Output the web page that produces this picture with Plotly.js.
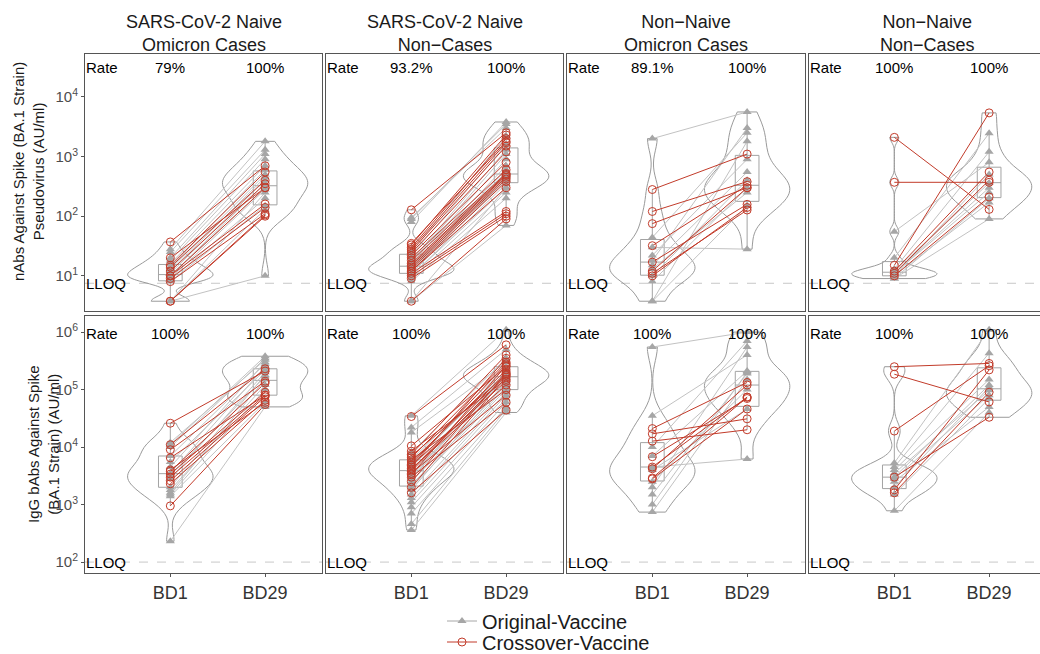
<!DOCTYPE html>
<html><head><meta charset="utf-8">
<script src="https://cdn.plot.ly/plotly-3.0.1.min.js"></script>
<style>
html,body{margin:0;padding:0;background:#fff;overflow:hidden;width:1040px;height:654px;}
#chart{width:1040px;height:654px;}
</style></head><body>
<div id="chart"></div>
<script>
// ---------------- DATA ----------------
const columnTitles = ["SARS-CoV-2 Naive<br>Omicron Cases", "SARS-CoV-2 Naive<br>Non\u2212Cases", "Non\u2212Naive<br>Omicron Cases", "Non\u2212Naive<br>Non\u2212Cases"];
const rowTitles = ["nAbs Against Spike (BA.1 Strain)<br>Pseudovirus (AU/ml)", "IgG bAbs Against Spike<br>(BA.1 Strain) (AU/ml)"];
const timepoints = ["BD1", "BD29"];
const seriesNames = ["Original-Vaccine", "Crossover-Vaccine"];
const nabRates = [["79%", "100%"], ["93.2%", "100%"], ["89.1%", "100%"], ["100%", "100%"]];
const babRates = [["100%", "100%"], ["100%", "100%"], ["100%", "100%"], ["100%", "100%"]];
const nabLLOQ = 7.5;
const babLLOQ = 100;
const nabTickExps = [1, 2, 3, 4];
const babTickExps = [2, 3, 4, 5, 6];

// nAbs, SARS-CoV-2 Naive Omicron Cases
const nab1_orig_bd1  = [3.75, 3.75, 3.75, 8, 8.5, 9, 10, 10, 11, 12, 13, 14, 16, 18, 20, 25, 28];
const nab1_orig_bd29 = [10, 130, 250, 150, 200, 280, 300, 350, 400, 450, 500, 600, 700, 900, 1100, 1300, 1800];
const nab1_cross_bd1  = [3.75, 3.75, 8, 9, 10, 10, 12, 14, 15, 20, 37];
const nab1_cross_bd29 = [100, 105, 110, 140, 160, 300, 350, 400, 550, 300, 700];
// nAbs, SARS-CoV-2 Naive Non-Cases
const nab2_orig_bd1  = [3.75, 3.75, 8, 9, 10, 10, 11, 11, 12, 12, 13, 13, 14, 14, 15, 16, 17, 18, 20, 22, 25, 80, 90, 95];
const nab2_orig_bd29 = [70, 300, 200, 250, 300, 350, 400, 420, 450, 480, 500, 520, 550, 600, 700, 900, 1100, 1300, 500, 1600, 2200, 3800, 3500, 3000];
const nab2_cross_bd1  = [3.75, 9, 10, 11, 12, 12, 13, 14, 15, 16, 18, 20, 22, 24, 26, 28, 30, 33, 35, 128];
const nab2_cross_bd29 = [90, 100, 110, 120, 300, 380, 420, 450, 480, 500, 520, 600, 800, 1200, 1500, 1700, 2000, 2300, 1800, 2500];
// nAbs, Non-Naive Omicron Cases
const nab3_orig_bd1  = [2000, 44, 30, 22, 18, 15, 13, 10, 8, 3.75, 3.75];
const nab3_orig_bd29 = [5600, 2500, 28, 900, 3000, 550, 250, 400, 300, 1800, 150];
const nab3_cross_bd1  = [280, 120, 75, 32, 17, 11, 10, 12];
const nab3_cross_bd29 = [1100, 380, 300, 330, 158, 127, 140, 300];
// nAbs, Non-Naive Non-Cases
const nab4_orig_bd1  = [55, 20, 13, 12, 11, 11, 10, 10, 9, 9];
const nab4_orig_bd29 = [800, 2450, 1200, 360, 300, 250, 500, 170, 200, 90];
const nab4_cross_bd1  = [2100, 370, 15, 12, 11, 10];
const nab4_cross_bd29 = [130, 370, 5400, 550, 400, 210];

// bAbs, SARS-CoV-2 Naive Omicron Cases
const bab1_orig_bd1  = [230, 1400, 1500, 1600, 1800, 2000, 2800, 3200, 3500, 4500, 5500, 7000, 10000, 11000, 12000];
const bab1_orig_bd29 = [50000, 60000, 100000, 150000, 120000, 180000, 200000, 170000, 250000, 300000, 220000, 280000, 350000, 380000, 330000];
const bab1_cross_bd1  = [950, 2300, 2600, 3000, 3400, 3800, 6500, 9000, 11000, 26000, 4000];
const bab1_cross_bd29 = [55000, 65000, 75000, 80000, 90000, 130000, 80000, 140000, 230000, 210000, 60000];
// bAbs, SARS-CoV-2 Naive Non-Cases
const bab2_orig_bd1  = [35000, 22000, 18000, 8000, 6000, 5500, 5000, 4500, 4000, 3500, 3200, 3000, 2800, 2500, 2200, 2000, 1800, 1500, 1300, 1100, 900, 700, 460, 360];
const bab2_orig_bd29 = [1100000, 500000, 300000, 350000, 250000, 200000, 220000, 180000, 160000, 150000, 170000, 130000, 200000, 120000, 110000, 100000, 140000, 90000, 80000, 70000, 60000, 50000, 45000, 40000];
const bab2_cross_bd1  = [34000, 10500, 8500, 7500, 7000, 6500, 6000, 5500, 5000, 4800, 4500, 4200, 4000, 3800, 3500, 3300, 3000, 2500, 2000, 1600];
const bab2_cross_bd29 = [600000, 250000, 150000, 400000, 180000, 300000, 100000, 220000, 280000, 140000, 350000, 120000, 200000, 175000, 80000, 260000, 60000, 190000, 165000, 44000];
// bAbs, Non-Naive Omicron Cases
const bab3_orig_bd1  = [550000, 35000, 7000, 4500, 2000, 1500, 1000, 740, 4000, 10000, 2500];
const bab3_orig_bd29 = [1000000, 400000, 210000, 6200, 550000, 190000, 200000, 150000, 46000, 700000, 100000];
const bab3_cross_bd1  = [21000, 17000, 12700, 6800, 4500, 2900, 2800, 4200];
const bab3_cross_bd29 = [133000, 31000, 20000, 70000, 74000, 74000, 46000, 120000];
// bAbs, Non-Naive Non-Cases
const bab4_orig_bd1  = [5300, 4500, 4000, 3500, 3000, 2800, 2500, 2000, 1500, 780];
const bab4_orig_bd29 = [1100000, 430000, 150000, 97000, 120000, 80000, 50000, 110000, 70000, 40000];
const bab4_cross_bd1  = [250000, 185000, 19000, 3000, 1800, 1600];
const bab4_cross_bd29 = [285000, 61000, 260000, 33000, 220000, 90000];

// ---------------- PANELS ----------------
const panels = [
  {r:0,c:0,o:[nab1_orig_bd1,nab1_orig_bd29],x:[nab1_cross_bd1,nab1_cross_bd29],rate:nabRates[0],lloq:nabLLOQ},
  {r:0,c:1,o:[nab2_orig_bd1,nab2_orig_bd29],x:[nab2_cross_bd1,nab2_cross_bd29],rate:nabRates[1],lloq:nabLLOQ},
  {r:0,c:2,o:[nab3_orig_bd1,nab3_orig_bd29],x:[nab3_cross_bd1,nab3_cross_bd29],rate:nabRates[2],lloq:nabLLOQ},
  {r:0,c:3,o:[nab4_orig_bd1,nab4_orig_bd29],x:[nab4_cross_bd1,nab4_cross_bd29],rate:nabRates[3],lloq:nabLLOQ},
  {r:1,c:0,o:[bab1_orig_bd1,bab1_orig_bd29],x:[bab1_cross_bd1,bab1_cross_bd29],rate:babRates[0],lloq:babLLOQ},
  {r:1,c:1,o:[bab2_orig_bd1,bab2_orig_bd29],x:[bab2_cross_bd1,bab2_cross_bd29],rate:babRates[1],lloq:babLLOQ},
  {r:1,c:2,o:[bab3_orig_bd1,bab3_orig_bd29],x:[bab3_cross_bd1,bab3_cross_bd29],rate:babRates[2],lloq:babLLOQ},
  {r:1,c:3,o:[bab4_orig_bd1,bab4_orig_bd29],x:[bab4_cross_bd1,bab4_cross_bd29],rate:babRates[3],lloq:babLLOQ}
];

// ---------------- STYLE ----------------
const W = 1040, H = 654;
// the last column runs past the right edge of the figure (cut off in the original)
const colPx = [[85,322],[326,563],[567,805],[809,1040]];
const rowPx = [[54,311],[316,573]];
const yRanges = [[0.41,4.72],[1.81,6.28]];
const pxPerUnit = 237 / 2.5;
const xMin = -0.9;
const GREY_LINE = '#c2c2c2', GREY_PT = '#a6a6a6', RED = '#c23b2a';
const VIOLIN = '#9a9a9a', BOX = '#a3a3a3', FRAME = '#555555';
const FONT = 'Liberation Sans, Arial, sans-serif';

const lg = v => Math.log10(v);
function q7(s,p){const h=(s.length-1)*p,lo=Math.floor(h),hi=Math.min(lo+1,s.length-1);return s[lo]+(h-lo)*(s[hi]-s[lo]);}
function nrd0(v){
  const n=v.length, s=[...v].sort((a,b)=>a-b), m=v.reduce((a,b)=>a+b,0)/n;
  const sd=Math.sqrt(v.reduce((a,b)=>a+(b-m)*(b-m),0)/(n-1));
  let lo=Math.min(sd,(q7(s,0.75)-q7(s,0.25))/1.34);
  if(!(lo>0)) lo = sd>0?sd:1;
  return 0.9*lo*Math.pow(n,-0.2);
}

const traces = [], annotations = [], shapes = [];
const legendBase = {x:442/W, xanchor:'left', yanchor:'middle', font:{size:20,color:'#1a1a1a',family:FONT},
  bgcolor:'rgba(0,0,0,0)', itemwidth:30, borderwidth:0};
const layout = {
  width: W, height: H, margin:{l:0,r:0,t:0,b:0,autoexpand:false},
  paper_bgcolor:'#fff', plot_bgcolor:'#fff',
  font:{family:FONT, color:'#1a1a1a'},
  showlegend:true,
  legend:Object.assign({}, legendBase, {y:1-621/H}),
  legend2:Object.assign({}, legendBase, {y:1-642/H}),
  violinmode:'overlay', boxmode:'overlay'
};

panels.forEach((p, k) => {
  const idx = k + 1;
  const sfx = idx === 1 ? '' : String(idx);
  const xr = 'x' + sfx, yr = 'y' + sfx;
  const exps = p.r === 0 ? nabTickExps : babTickExps;
  const xRange = [xMin, xMin + (colPx[p.c][1] - colPx[p.c][0]) / pxPerUnit];
  const lastCol = p.c === 3;
  layout['xaxis' + sfx] = {
    domain:[colPx[p.c][0]/W, colPx[p.c][1]/W], range:xRange, type:'linear', anchor:yr,
    tickvals:[0,1], ticktext:timepoints, showticklabels:p.r===1, ticks:p.r===1?'outside':'',
    ticklen:3, tickcolor:FRAME, tickwidth:1, showline:true, mirror:true, linecolor:FRAME, linewidth:1,
    showgrid:false, zeroline:false, tickfont:{size:18,color:'#333333',family:FONT}, fixedrange:true
  };
  layout['yaxis' + sfx] = {
    domain:[1-rowPx[p.r][1]/H, 1-rowPx[p.r][0]/H], range:yRanges[p.r], type:'linear', anchor:xr,
    tickvals:exps, ticktext:exps.map(e => '10<sup>' + e + '</sup>'),
    showticklabels:p.c===0, ticks:p.c===0?'outside':'', ticklen:3, tickcolor:FRAME, tickwidth:1,
    showline:true, mirror:!lastCol, linecolor:FRAME, linewidth:1, showgrid:false, zeroline:false,
    tickfont:{size:15,color:'#4d4d4d',family:FONT}, fixedrange:true
  };

  // violins and boxes (all subjects per timepoint)
  [0,1].forEach(t => {
    const vals = p.o[t].concat(p.x[t]).map(lg);
    traces.push({type:'violin', x0:t, y:vals, xaxis:xr, yaxis:yr, width:0.9, scalemode:'width',
      spanmode:'hard', bandwidth:nrd0(vals), points:false, box:{visible:false}, meanline:{visible:false},
      line:{color:VIOLIN, width:1}, fillcolor:'rgba(0,0,0,0)', showlegend:false, hoverinfo:'skip', name:''});
  });
  [0,1].forEach(t => {
    const vals = p.o[t].concat(p.x[t]).map(lg);
    traces.push({type:'box', x0:t, y:vals, xaxis:xr, yaxis:yr, width:0.25, boxpoints:'outliers',
      marker:{color:'rgba(0,0,0,0)', size:1, line:{width:0}}, whiskerwidth:0, quartilemethod:'linear',
      line:{color:BOX, width:1}, fillcolor:'rgba(0,0,0,0)', showlegend:false, hoverinfo:'skip', name:''});
  });

  // paired lines
  const pairLines = (a, b) => {
    const xs = [], ys = [];
    a.forEach((v, i) => { xs.push(0, 1, null); ys.push(lg(v), lg(b[i]), null); });
    return {xs, ys};
  };
  const gl = pairLines(p.o[0], p.o[1]);
  traces.push({type:'scatter', mode:'lines', x:gl.xs, y:gl.ys, xaxis:xr, yaxis:yr,
    line:{color:GREY_LINE, width:1}, showlegend:false, hoverinfo:'skip'});
  const rl = pairLines(p.x[0], p.x[1]);
  traces.push({type:'scatter', mode:'lines', x:rl.xs, y:rl.ys, xaxis:xr, yaxis:yr,
    line:{color:RED, width:1}, showlegend:false, hoverinfo:'skip'});

  // points (separated by gaps so no connecting line; legend shows line + marker)
  const pts = (a, b) => {
    const xs = [], ys = [];
    a.forEach((v, i) => { xs.push(0, null, 1, null); ys.push(lg(v), null, lg(b[i]), null); });
    return {xs, ys};
  };
  const gp = pts(p.o[0], p.o[1]);
  traces.push({type:'scatter', mode:'lines+markers', x:gp.xs, y:gp.ys, xaxis:xr, yaxis:yr,
    connectgaps:false, name:seriesNames[0], legend:'legend', legendgroup:'orig', showlegend:k===0,
    line:{color:GREY_PT, width:1}, marker:{symbol:'triangle-up', size:8, color:GREY_PT}, hoverinfo:'skip'});
  const rp = pts(p.x[0], p.x[1]);
  traces.push({type:'scatter', mode:'lines+markers', x:rp.xs, y:rp.ys, xaxis:xr, yaxis:yr,
    connectgaps:false, name:seriesNames[1], legend:'legend2', legendgroup:'cross', showlegend:k===0,
    line:{color:RED, width:1}, marker:{symbol:'circle-open', size:8, color:RED, line:{width:1, color:RED}}, hoverinfo:'skip'});

  // LLOQ dashed line
  shapes.push({type:'line', xref:xr + ' domain', x0:0, x1:1, yref:yr, y0:lg(p.lloq), y1:lg(p.lloq),
    line:{color:'#c8c8c8', width:1, dash:'dash'}, layer:'below'});
  annotations.push({xref:xr, yref:yr, x:xMin, y:lg(p.lloq), xanchor:'left', yanchor:'middle',
    text:'LLOQ', showarrow:false, font:{size:15,color:'#000'}, borderpad:0});

  // Rate row
  const rateY = p.r === 0 ? 4.49 : 5.98;
  annotations.push({xref:xr, yref:yr, x:xMin, y:rateY, xanchor:'left', yanchor:'middle',
    text:'Rate', showarrow:false, font:{size:15,color:'#000'}, borderpad:0});
  [0,1].forEach(t => annotations.push({xref:xr, yref:yr, x:t, y:rateY, xanchor:'center', yanchor:'middle',
    text:p.rate[t], showarrow:false, font:{size:15,color:'#000'}}));

  // column titles (centred on the full-width facet)
  if (p.r === 0) {
    const cx = colPx[p.c][0] + 118.5;
    annotations.push({xref:'paper', yref:'paper', x:cx/W, y:1-34/H,
      xanchor:'center', yanchor:'middle', text:columnTitles[p.c], showarrow:false,
      font:{size:18,color:'#1a1a1a'}});
  }
});

// row (y-axis) titles
annotations.push({xref:'paper', yref:'paper', x:28/W, y:1-172/H, xanchor:'center', yanchor:'middle',
  text:rowTitles[0], textangle:-90, showarrow:false, font:{size:15,color:'#1a1a1a'}});
annotations.push({xref:'paper', yref:'paper', x:43/W, y:1-444/H, xanchor:'center', yanchor:'middle',
  text:rowTitles[1], textangle:-90, showarrow:false, font:{size:15,color:'#1a1a1a'}});

layout.annotations = annotations;
layout.shapes = shapes;

Plotly.newPlot('chart', traces, layout, {displayModeBar:false, staticPlot:true});
</script>
</body></html>
